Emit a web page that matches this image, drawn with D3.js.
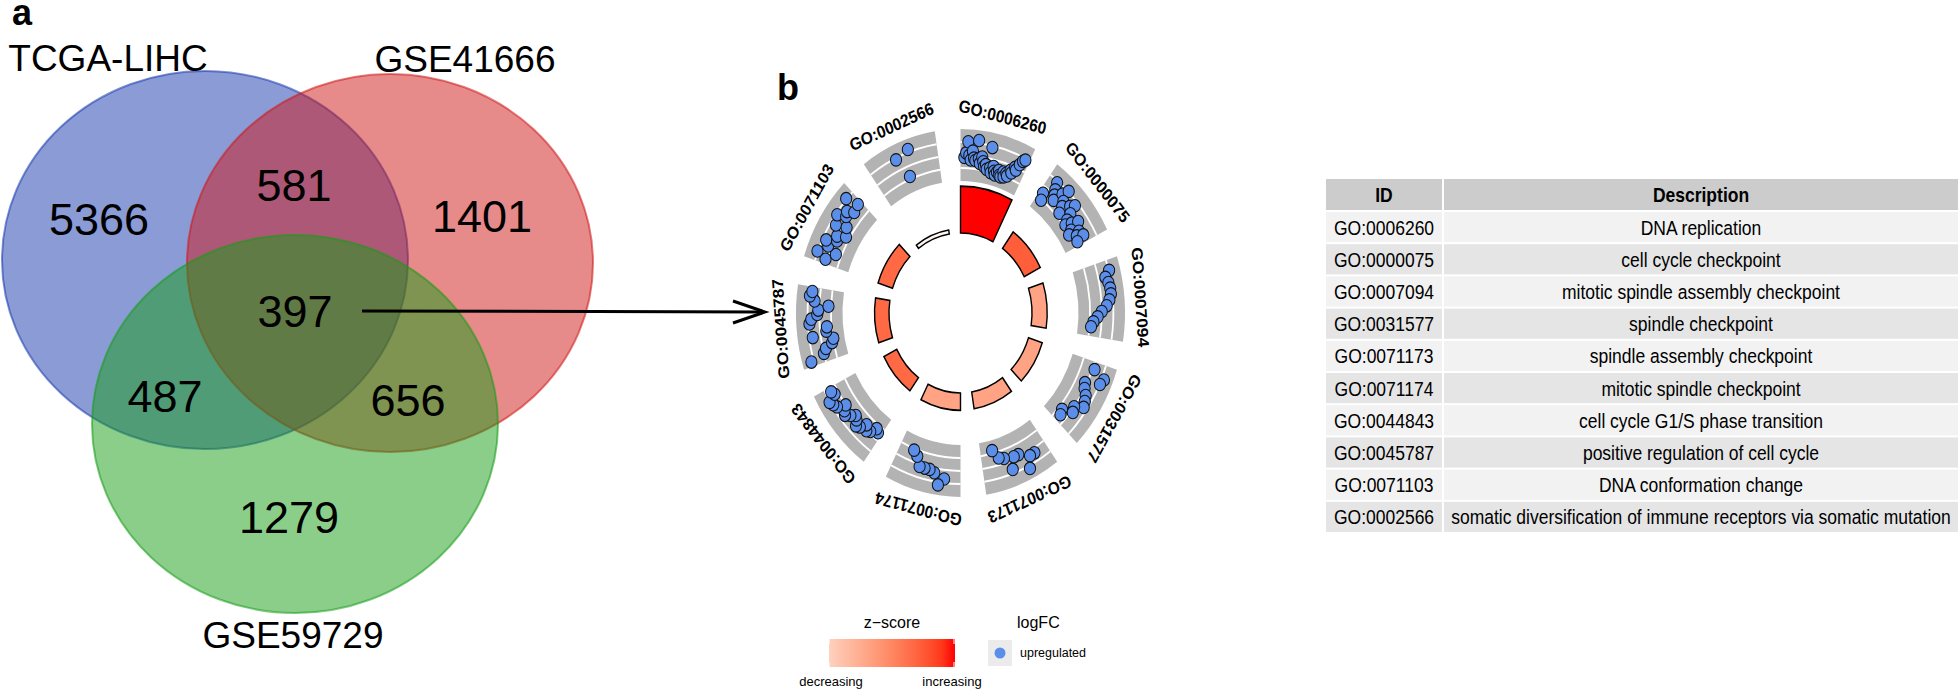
<!DOCTYPE html>
<html>
<head>
<meta charset="utf-8">
<script src="https://cdn.jsdelivr.net/npm/d3@7"></script>
<style>
  body { margin: 0; background: #fff; }
  svg { display: block; font-family: "Liberation Sans", Arial, Helvetica, sans-serif; }
</style>
</head>
<body>
<svg id="fig" width="1960" height="690"></svg>
<script>
// ---------- data ----------
var vennSets = ["TCGA-LIHC", "GSE41666", "GSE59729"];
var vennColors = ["#1537ad", "#cf1515", "#159d15"];
// regions: A only, B only, C only, AB, AC, BC, ABC
var vennRegions = ["A", "B", "C", "AB", "AC", "BC", "ABC"];
var vennCounts = [5366, 1401, 1279, 581, 487, 656, 397];

var goIds = ["GO:0006260", "GO:0000075", "GO:0007094", "GO:0031577", "GO:0071173",
             "GO:0071174", "GO:0044843", "GO:0045787", "GO:0071103", "GO:0002566"];
var goDesc = ["DNA replication", "cell cycle checkpoint", "mitotic spindle assembly checkpoint",
              "spindle checkpoint", "spindle assembly checkpoint", "mitotic spindle checkpoint",
              "cell cycle G1/S phase transition", "positive regulation of cell cycle",
              "DNA conformation change", "somatic diversification of immune receptors via somatic mutation"];
// -log10(adj p) -> bar height, z-score -> bar colour
var goNegLogP = [11.6, 5.0, 4.2, 4.0, 4.2, 4.3, 4.0, 4.0, 4.2, 1.0];
var goZscore  = [5.66, 4.8, 3.5, 3.5, 3.5, 3.5, 4.6, 4.6, 4.6, 1.73];
// logFC of the genes in each term (all upregulated)
var goLogFC = [
  [2.8, 3.2, 4.2, 3.0, 2.6, 3.4, 2.8, 2.6, 4.4, 2.8, 2.4, 3.0, 2.6, 2.2, 2.4, 2.0,
   4.0, 2.2, 1.8, 2.4, 2.0, 1.7, 2.0, 2.2, 1.8, 1.7, 2.2, 1.8, 2.2, 2.0, 2.6, 2.4,
   3.0, 2.8, 3.4, 3.8, 4.0],
  [2.4, 1.8, 4.0, 3.4, 3.0, 2.6, 3.6, 4.2, 3.2, 2.8, 2.2, 3.4, 3.8, 3.0, 2.4, 2.0,
   2.6, 3.2, 2.2, 1.8, 2.8, 2.4, 3.0, 2.2],
  [4.2, 3.7, 3.9, 4.0, 4.0, 3.8, 3.5, 3.0, 2.6, 2.2, 2.0],
  [3.2, 4.4, 4.2, 2.8, 3.0, 3.4, 3.6, 3.8, 3.0, 3.2, 2.2, 2.4],
  [3.4, 3.4, 4.4, 2.8, 2.8, 3.8, 2.6, 2.4, 1.6],
  [3.8, 4.4, 3.4, 3.2, 3.2, 3.2, 2.4, 2.0],
  [2.4, 2.2, 2.8, 3.0, 2.6, 3.2, 3.4, 3.0, 2.8, 3.2, 3.6, 3.4, 3.0, 3.8, 4.0, 4.2, 3.4, 3.6],
  [4.4, 3.0, 2.7, 2.0, 1.8, 3.8, 2.4, 2.3, 4.0, 3.8, 3.2, 3.1, 2.1, 3.5, 4.0, 3.8],
  [3.2, 4.2, 2.4, 3.4, 3.8, 2.8, 3.0, 2.2, 3.6, 2.6, 4.0, 3.2, 3.4, 2.8, 4.2, 3.0],
  [4.0, 2.1, 4.4]
];

var svg = d3.select("#fig");

// ---------- a: Venn ----------
var ell = [{cx: 205, cy: 260}, {cx: 390, cy: 263}, {cx: 295, cy: 424}];
var rx = 203, ry = 189;

svg.append("text").attr("x", 12).attr("y", 25)
   .style("font-size", "36px").style("font-weight", "bold").text("a");

svg.selectAll("ellipse.venn")
   .data(vennSets)
   .enter().append("ellipse")
   .attr("class", "venn")
   .attr("cx", function(d, i) { return ell[i].cx; })
   .attr("cy", function(d, i) { return ell[i].cy; })
   .attr("rx", rx).attr("ry", ry)
   .style("fill", function(d, i) { return vennColors[i]; })
   .style("fill-opacity", 0.5)
   .style("stroke", function(d, i) { return vennColors[i]; })
   .style("stroke-opacity", 0.55)
   .style("stroke-width", 2);

var setLabelPos = [[108, 71], [465, 72], [293, 648]];
svg.selectAll("text.setlab")
   .data(vennSets)
   .enter().append("text")
   .attr("class", "setlab")
   .attr("x", function(d, i) { return setLabelPos[i][0]; })
   .attr("y", function(d, i) { return setLabelPos[i][1]; })
   .attr("text-anchor", "middle")
   .style("font-size", "37px")
   .text(function(d) { return d; });

var regionPos = {A: [99, 235], B: [482, 232], C: [289, 533], AB: [294, 201],
                 AC: [165, 412], BC: [408, 416], ABC: [295, 327]};
svg.selectAll("text.count")
   .data(vennCounts)
   .enter().append("text")
   .attr("class", "count")
   .attr("x", function(d, i) { return regionPos[vennRegions[i]][0]; })
   .attr("y", function(d, i) { return regionPos[vennRegions[i]][1]; })
   .attr("text-anchor", "middle")
   .style("font-size", "45px")
   .text(function(d) { return d; });

// arrow from the 397 overlap to the circle
svg.append("line").attr("x1", 362).attr("y1", 311).attr("x2", 764).attr("y2", 312)
   .style("stroke", "#000").style("stroke-width", 3);
svg.append("path").attr("d", "M733,301 L765,312 L733,323")
   .style("fill", "none").style("stroke", "#000").style("stroke-width", 3);

// ---------- b: GO circle ----------
var cx = 960.5, cy = 313, stretchY = 1.118;
var rGreyIn = 118, rGreyOut = 164.5, rBarBase = 71.5, rLabel = 175;
var span = 27; // degrees used by each term, rest is gap
var rad = Math.PI / 180;

svg.append("text").attr("x", 777).attr("y", 100)
   .style("font-size", "36px").style("font-weight", "bold").text("b");

var startAngle = d3.scaleLinear().domain([0, goIds.length]).range([0, 360]);
var barH = d3.scaleLinear().domain([0, d3.max(goNegLogP)]).range([0, 42]);
var zMin = d3.min(goZscore), zMax = d3.max(goZscore);
var zColor = d3.scaleLinear().domain([zMin, zMax]).range(["#fff4ee", "#ff0000"])
               .interpolate(d3.interpolateLab);
var rFC = d3.scaleLinear().domain([1, 5]).range([rGreyIn + 3, rGreyOut - 3]);

var circ = svg.append("g")
   .attr("transform", "translate(" + cx + "," + cy + ") scale(1," + stretchY + ")");

var terms = goIds.map(function(id, i) {
  var s = startAngle(i);
  return {id: id, i: i, s: s, e: s + span, mid: s + span / 2};
});

// grey background of the outer track
circ.selectAll("path.track")
   .data(terms).enter().append("path")
   .attr("class", "track")
   .attr("d", function(d) {
     return d3.arc()({innerRadius: rGreyIn, outerRadius: rGreyOut,
                      startAngle: d.s * rad, endAngle: d.e * rad});
   })
   .style("fill", "#b3b3b3");

// white grid lines
var gridR = [1, 2, 3].map(function(k) { return rGreyIn + k * (rGreyOut - rGreyIn) / 4; });
terms.forEach(function(t) {
  circ.selectAll(null)
     .data(gridR).enter().append("path")
     .attr("d", function(r) {
       return d3.arc()({innerRadius: r - 0.9, outerRadius: r + 0.9,
                        startAngle: t.s * rad, endAngle: t.e * rad});
     })
     .style("fill", "#fff");
});

// genes as points
terms.forEach(function(t) {
  var vals = goLogFC[t.i];
  var n = vals.length;
  var pad = Math.max(1.6, (span - n * 1.8) / 2);
  var ang = d3.scaleLinear().domain([0, n - 1]).range([t.s + pad, t.e - pad]);
  circ.selectAll(null)
     .data(vals).enter().append("circle")
     .attr("cx", function(v, j) { return rFC(v) * Math.sin(ang(j) * rad); })
     .attr("cy", function(v, j) { return -rFC(v) * Math.cos(ang(j) * rad); })
     .attr("r", 5.6)
     .style("fill", "#5b8ee9")
     .style("stroke", "#111")
     .style("stroke-width", 1);
});

// inner bars
circ.selectAll("path.bar")
   .data(terms).enter().append("path")
   .attr("class", "bar")
   .attr("d", function(d) {
     return d3.arc()({innerRadius: rBarBase, outerRadius: rBarBase + barH(goNegLogP[d.i]),
                      startAngle: d.s * rad, endAngle: d.e * rad});
   })
   .style("fill", function(d) { return zColor(goZscore[d.i]); })
   .style("stroke", "#000")
   .style("stroke-width", 1.4);

// term labels around the circle
circ.selectAll("text.term")
   .data(terms).enter().append("text")
   .attr("class", "term")
   .attr("transform", function(d) { return "rotate(" + d.mid + ") translate(0," + (-rLabel) + ")"; })
   .attr("text-anchor", "middle")
   .style("font-size", "15.5px")
   .style("font-weight", "bold")
   .text(function(d) { return d.id; });

// legends
var grad = svg.append("defs").append("linearGradient").attr("id", "zgrad");
d3.range(0, 1.001, 0.1).forEach(function(t) {
  grad.append("stop").attr("offset", t)
      .attr("stop-color", zColor(zMin + (0.2 + 0.8 * t) * (zMax - zMin)));
});
svg.append("text").attr("x", 892).attr("y", 628).attr("text-anchor", "middle")
   .style("font-size", "16px").text("z\u2212score");
svg.append("rect").attr("x", 829).attr("y", 639).attr("width", 126).attr("height", 28)
   .style("fill", "url(#zgrad)");
[829, 954].forEach(function(x) {
  svg.append("line").attr("x1", x).attr("x2", x).attr("y1", 639).attr("y2", 644)
     .style("stroke", "#fff").style("stroke-width", 1);
  svg.append("line").attr("x1", x).attr("x2", x).attr("y1", 662).attr("y2", 667)
     .style("stroke", "#fff").style("stroke-width", 1);
});
svg.append("text").attr("x", 831).attr("y", 686).attr("text-anchor", "middle")
   .style("font-size", "13px").text("decreasing");
svg.append("text").attr("x", 952).attr("y", 686).attr("text-anchor", "middle")
   .style("font-size", "13px").text("increasing");

svg.append("text").attr("x", 1017).attr("y", 628)
   .style("font-size", "16px").text("logFC");
svg.append("rect").attr("x", 988).attr("y", 640).attr("width", 24).attr("height", 26)
   .style("fill", "#ebebeb");
svg.append("circle").attr("cx", 1000).attr("cy", 653).attr("r", 5.5)
   .style("fill", "#5b8ee9");
svg.append("text").attr("x", 1020).attr("y", 657)
   .style("font-size", "12.5px").text("upregulated");

// ---------- table ----------
var tX = 1326, idW = 116, gap = 2, descW = 514;
var headY = 179, headH = 31, rowY0 = 212, rowPitch = 32.2, rowH = 30.2;
var idC = tX + idW / 2, descC = tX + idW + gap + descW / 2;

var tbl = svg.append("g");
tbl.append("rect").attr("x", tX).attr("y", headY).attr("width", idW).attr("height", headH)
   .style("fill", "#cccccc");
tbl.append("rect").attr("x", tX + idW + gap).attr("y", headY).attr("width", descW).attr("height", headH)
   .style("fill", "#cccccc");

function tableText(x, y, txt, bold) {
  tbl.append("text")
     .attr("transform", "translate(" + x + "," + y + ") scale(1,1.17)")
     .attr("text-anchor", "middle")
     .style("font-size", "17.5px")
     .style("font-weight", bold ? "bold" : "normal")
     .text(txt);
}
tableText(idC, 202, "ID", true);
tableText(descC, 202, "Description", true);

var rows = tbl.selectAll("g.row")
   .data(goIds).enter().append("g")
   .attr("class", "row");
rows.append("rect")
   .attr("x", tX).attr("y", function(d, i) { return rowY0 + i * rowPitch; })
   .attr("width", idW).attr("height", rowH)
   .style("fill", function(d, i) { return i % 2 ? "#e5e5e5" : "#f2f2f2"; });
rows.append("rect")
   .attr("x", tX + idW + gap).attr("y", function(d, i) { return rowY0 + i * rowPitch; })
   .attr("width", descW).attr("height", rowH)
   .style("fill", function(d, i) { return i % 2 ? "#e5e5e5" : "#f2f2f2"; });
goIds.forEach(function(id, i) {
  var y = rowY0 + i * rowPitch + 22.5;
  tableText(idC, y, id, false);
  tableText(descC, y, goDesc[i], false);
});
</script>
</body>
</html>
